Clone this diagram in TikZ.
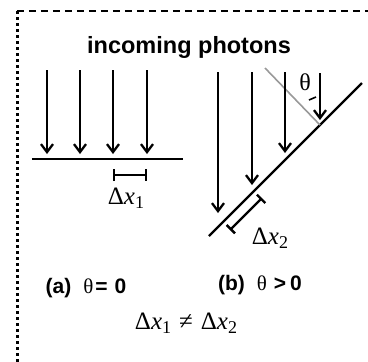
\documentclass[tikz,border=0pt]{standalone}
\usepackage{fontspec}
\setmainfont{Liberation Serif}
\newfontfamily\labelfont{Liberation Sans}
\usetikzlibrary{arrows.meta,positioning,calc}

\newcommand{\dxlabel}[1]{Δ\textit{x}\raisebox{-0.35ex}{\fontsize{18}{18}\selectfont #1}}

\begin{document}
\begin{tikzpicture}[x=1pt, y=-1pt,
  photon/.style={-{Straight Barb[length=8pt,width=12pt]}, line width=2.3pt},
  surface/.style={line width=2.3pt},
  normal/.style={line width=1.6pt, black!40},
  span/.style={{Bar[width=12pt]}-{Bar[width=12pt]}, line width=2.3pt},
  title/.style={font=\labelfont\bfseries\fontsize{23.5}{23.5}\selectfont},
  case/.style={font=\labelfont\bfseries\fontsize{21}{21}\selectfont},
  sym/.style={font=\fontsize{25}{25}\selectfont}
]
\useasboundingbox (0,0) rectangle (368,362);
\draw[line width=2pt, dash pattern=on 7pt off 5pt] (17,11) -- (368,11);
\draw[line width=2.5pt, dash pattern=on 2.5pt off 3.5pt] (17.5,11) -- (17.5,362);

\node[title] (head) at (189,47) {incoming photons};

% (a) normal incidence
\draw[surface] (32,159) -- (183,159);
\foreach \x in {47,80,113,147}
  \draw[photon] (\x,70) -- (\x,154);
\draw[span] (113,175) -- (147,175);
\node[sym] (dx1) at (126,198) {\dxlabel{1}};

% (b) tilted surface
\coordinate (lo) at (209,236);
\coordinate (hi) at (362,83);
\coordinate (hit) at (320,125);
\draw[surface] (lo) -- (hi);
\draw[normal] (265,68) -- (hit);
\draw[photon] (218,72) -- (218,213);
\draw[photon] (252,72) -- (252,185);
\draw[photon] (285,72) -- (285,153);
\draw[photon] (320,73) -- (320,120);
\node[sym, font=\fontsize{24}{24}\selectfont] (theta) at (305,82) {θ};
\draw[line width=1.6pt] (309,100) -- (316,97);
\draw[span] (230,230) -- (262,198);
\node[sym] (dx2) at (270,238) {\dxlabel{2}};

\node[case] (capa) at (86,288) {(a)\hspace{12pt}{\mdseries\rmfamily θ}\hspace{2pt}=\hspace{7pt}0};
\node[case] (capb) at (260,285) {(b)\hspace{12pt}{\mdseries\rmfamily θ}\hspace{7pt}>\hspace{4pt}0};
\node[sym] (ineq) at (186,323) {\dxlabel{1}\hspace{8pt}≠\hspace{8pt}\dxlabel{2}};
\end{tikzpicture}
\end{document}
